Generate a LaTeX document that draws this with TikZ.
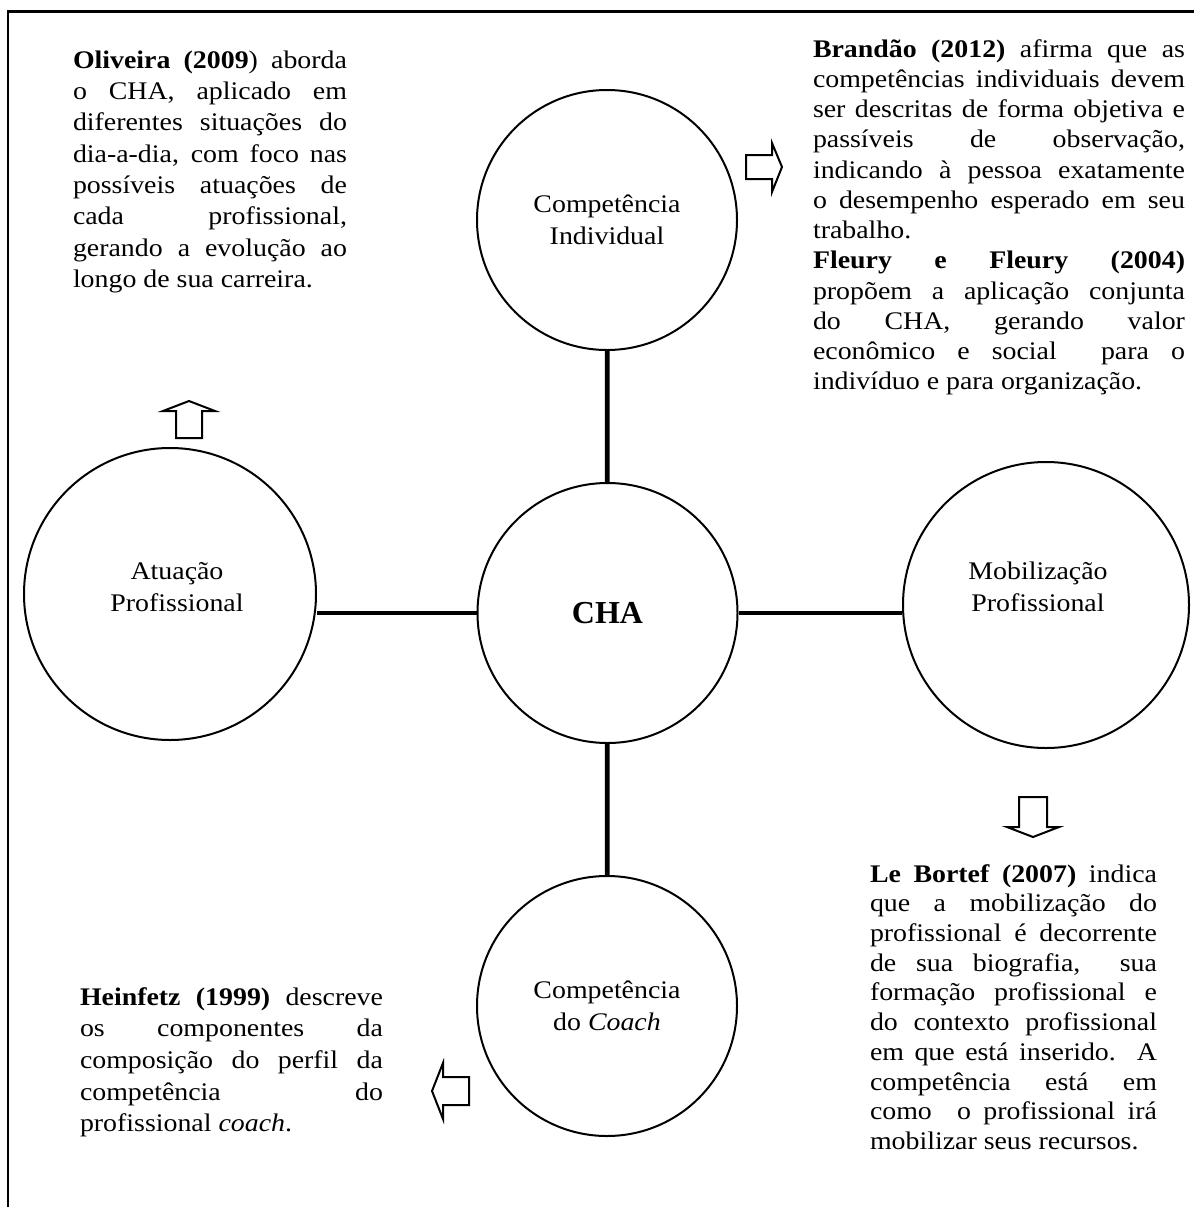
\documentclass[tikz,border=0pt]{standalone}
\usepackage{fontspec}
\setmainfont{Liberation Serif}[FakeStretch=1.1]
\newfontfamily\chafont{Liberation Serif}
\newdimen\pxu \pxu=0.75pt

% justified paragraph block; the first baseline is the box baseline
\newcommand\txtblock[3]{\vtop{\hsize=#1\pxu\linewidth=\hsize
  \parindent=0pt\parskip=0pt\tolerance=10000\hbadness=10000
  \hyphenpenalty=10000\exhyphenpenalty=10000
  \fontsize{19pt}{#2}\selectfont #3}}

\tikzset{
  circ/.style={circle, draw, line width=1.5pt, inner sep=0pt, align=center,
    font=\fontsize{19pt}{24pt}\selectfont},
  lbl/.style={inner sep=0pt, align=center, font=\fontsize{19pt}{24pt}\selectfont},
  conn/.style={line width=3.6pt},
  blockarrow/.style={draw, line width=1.5pt, miter limit=10, fill=white},
  txt/.style={anchor=base west, inner sep=0pt, outer sep=0pt},
  frame/.style={line width=1.8pt}
}

\begin{document}
\begin{tikzpicture}[x=0.75pt, y=-0.75pt]
\useasboundingbox (0,0) rectangle (1194,1207);

% page frame (top and left edges)
\draw[frame] (8,1210) -- (8,11.5) -- (1197,11.5);

% concept circles
\node[circ, minimum size=260\pxu] (ind) at (607,220) {Competência\\Individual};
\node[circ, minimum size=260\pxu] (cha) at (607.5,613)
  {\chafont\bfseries\fontsize{24pt}{24pt}\selectfont CHA};
\node[circ, minimum size=260\pxu] (coach) at (607,1006) {Competência\\do \textit{Coach}};
\node[circ, minimum size=292\pxu] (atu) at (170,594) {};
\node[circ, minimum size=286\pxu] (mob) at (1046,605) {};
\node[lbl] (atutxt) at (177,587) {Atuação\\Profissional};
\node[lbl] (mobtxt) at (1038,587) {Mobilização\\Profissional};

% links to the centre
\draw[conn] (ind) -- (cha);
\draw[conn] (cha) -- (coach);
\draw[conn] (cha.west) -- (cha.west -| atu.east);
\draw[conn] (cha.east) -- (cha.east -| mob.west);

% block arrows
\draw[blockarrow] (176,438) -- (176,411) -- (163,411) -- (189,401) -- (215,411)
  -- (202,411) -- (202,438) -- cycle;
\draw[blockarrow] (746,155) -- (772,155) -- (772,143) -- (782,167) -- (772,192)
  -- (772,179) -- (746,179) -- cycle;
\draw[blockarrow] (1019,797) -- (1047,797) -- (1047,827) -- (1059,827) -- (1033,837)
  -- (1007,827) -- (1019,827) -- cycle;
\draw[blockarrow] (469,1077) -- (443,1077) -- (443,1063) -- (432,1091) -- (443,1119)
  -- (443,1105) -- (469,1105) -- cycle;

% citations
\node[txt] (oliv) at (73,68) {\txtblock{274}{23.5pt}{%
\textbf{Oliveira (2009}) aborda\linebreak
o CHA, aplicado em\linebreak
diferentes situações do\linebreak
dia-a-dia, com foco nas\linebreak
possíveis atuações de\linebreak
cada profissional,\linebreak
gerando a evolução ao\linebreak
longo de sua carreira.}};

\node[txt] (bran) at (813,57) {\txtblock{372}{22.7pt}{%
\textbf{Brandão (2012)} afirma que as\linebreak
competências individuais devem\linebreak
ser descritas de forma objetiva e\linebreak
passíveis de observação,\linebreak
indicando à pessoa exatamente\linebreak
o desempenho esperado em seu\linebreak
trabalho.\par
\textbf{Fleury e Fleury (2004)}\linebreak
propõem a aplicação conjunta\linebreak
do CHA, gerando valor\linebreak
econômico e social\ \ para o\linebreak
indivíduo e para organização.}};

\node[txt] (lebo) at (870,882) {\txtblock{287}{22.3pt}{%
\textbf{Le Bortef (2007)} indica\linebreak
que a mobilização do\linebreak
profissional é decorrente\linebreak
de sua biografia,\ \ sua\linebreak
formação profissional e\linebreak
do contexto profissional\linebreak
em que está inserido.\ \ A\linebreak
competência está em\linebreak
como\ \ o profissional irá\linebreak
mobilizar seus recursos.}};

\node[txt] (hein) at (80,1005) {\txtblock{303}{23.8pt}{%
\textbf{Heinfetz (1999)} descreve\linebreak
os componentes da\linebreak
composição do perfil da\linebreak
competência do\linebreak
profissional \textit{coach}.}};
\end{tikzpicture}
\end{document}
